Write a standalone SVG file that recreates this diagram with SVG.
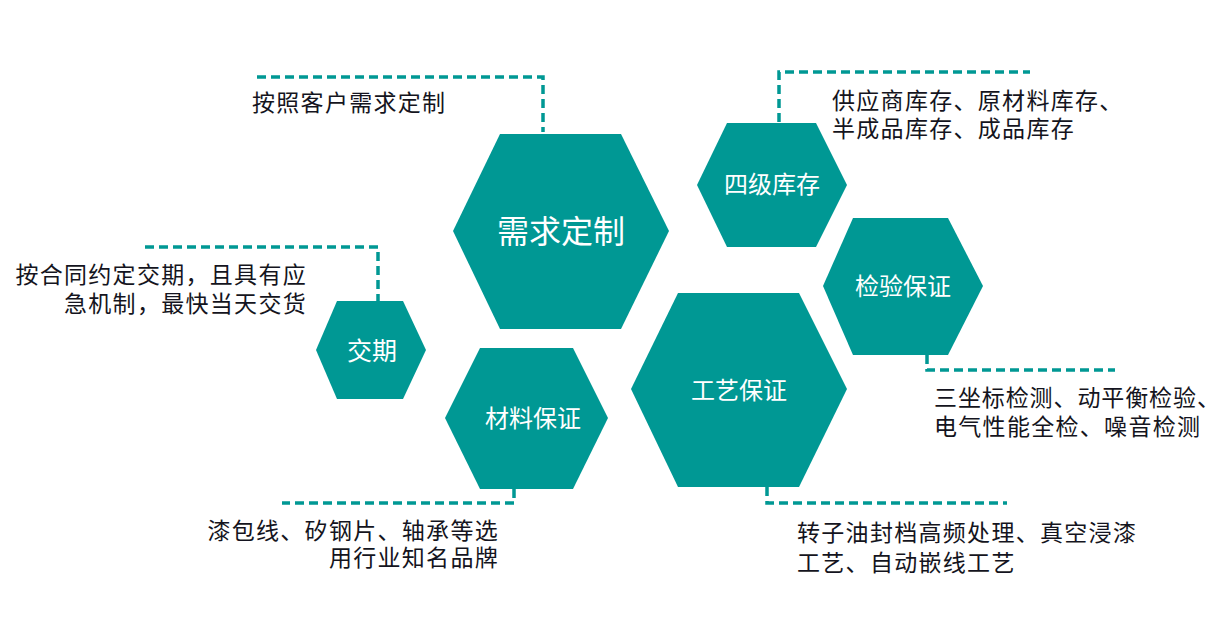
<svg xmlns="http://www.w3.org/2000/svg" width="1223" height="624" viewBox="0 0 1223 624">
<style>
.hex{fill:#009894;}
.hl{fill:#ffffff;font-family:"Noto Sans CJK SC","Noto Sans",sans-serif;text-anchor:middle;}
.tx{fill:#141420;font-family:"Noto Sans CJK SC","Noto Sans",sans-serif;font-size:23px;letter-spacing:1.3px;}
.dash{fill:none;stroke:#009894;stroke-width:3.5;stroke-dasharray:9 5;}
</style>
<rect width="1223" height="624" fill="#ffffff"/>
<g id="connectors">
<polyline class="dash" points="257,77 543,77 543,132"/>
<polyline class="dash" points="779,122 779,72 1030,72"/>
<polyline class="dash" points="145,247 378,247 378,301"/>
<polyline class="dash" points="927,355 927,370 1115,370"/>
<polyline class="dash" points="767,487 767,503 1007,503"/>
<polyline class="dash" points="514,489 514,503 282,503"/>
</g>
<g id="node-xuqiu">
<polygon class="hex" points="500,134 621,134 669,231 621,329 500,329 453,231"/>
<text class="hl" x="561" y="243" font-size="32">需求定制</text>
</g>
<g id="node-siji">
<polygon class="hex" points="727,123 816,123 847,185 816,247 727,247 697,185"/>
<text class="hl" x="772" y="193" font-size="24">四级库存</text>
</g>
<g id="node-jiaoqi">
<polygon class="hex" points="337,301 403,301 426,350 403,399 337,399 316,350"/>
<text class="hl" x="372" y="360" font-size="25">交期</text>
</g>
<g id="node-jianyan">
<polygon class="hex" points="853,218 948,218 983,286 948,355 853,355 823,286"/>
<text class="hl" x="903" y="295" font-size="24">检验保证</text>
</g>
<g id="node-gongyi">
<polygon class="hex" points="678,293 799,293 847,389 799,487 678,487 631,389"/>
<text class="hl" x="739" y="399" font-size="24">工艺保证</text>
</g>
<g id="node-cailiao">
<polygon class="hex" points="480,348 573,348 608,418 573,489 480,489 445,418"/>
<text class="hl" x="533" y="427" font-size="24">材料保证</text>
</g>
<g id="labels">
<text class="tx" x="252" y="111">按照客户需求定制</text>
<text class="tx" x="832" y="109">供应商库存、原材料库存、</text>
<text class="tx" x="832" y="137">半成品库存、成品库存</text>
<text class="tx" x="307" y="283" text-anchor="end">按合同约定交期，且具有应</text>
<text class="tx" x="307" y="312" text-anchor="end">急机制，最快当天交货</text>
<text class="tx" x="934" y="406" style="letter-spacing:0.9px">三坐标检测、动平衡检验、</text>
<text class="tx" x="934" y="435">电气性能全检、噪音检测</text>
<text class="tx" x="797" y="541">转子油封档高频处理、真空浸漆</text>
<text class="tx" x="797" y="571">工艺、自动嵌线工艺</text>
<text class="tx" x="499" y="539" text-anchor="end">漆包线、矽钢片、轴承等选</text>
<text class="tx" x="499" y="566" text-anchor="end">用行业知名品牌</text>
</g>
</svg>
